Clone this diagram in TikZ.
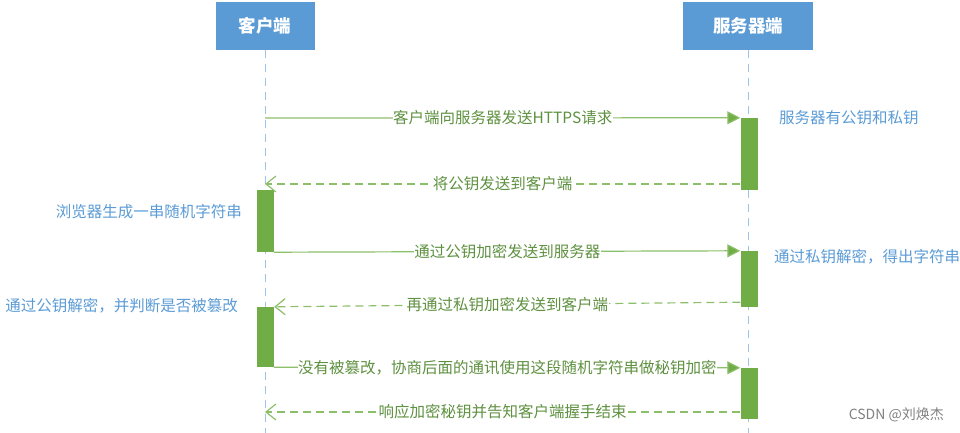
\documentclass[tikz,border=0pt]{standalone}
\usepackage{fontspec}
\setmainfont{Noto Sans CJK SC}
\usetikzlibrary{arrows.meta,calc}
\definecolor{hdrblue}{HTML}{5B9BD5}
\definecolor{lifeblue}{HTML}{9DC3E6}
\definecolor{bargreen}{HTML}{70AD47}
\definecolor{linegreen}{HTML}{8CBF6A}
\definecolor{txtgreen}{HTML}{5E9140}
\definecolor{notblue}{HTML}{5B9BD5}
\tikzset{
  header/.style={fill=hdrblue, draw=none, text=white, font=\fontsize{17.5}{20}\selectfont\bfseries, minimum height=48pt, inner sep=0pt},
  lifeline/.style={draw=lifeblue, line width=1pt, dash pattern=on 8pt off 6pt},
  actbar/.style={fill=bargreen, draw=none, minimum width=17pt, inner sep=0pt},
  reqmsg/.style={draw=linegreen, line width=1.2pt, -{Triangle[length=13pt,width=13pt,fill=bargreen]}},
  repmsg/.style={draw=linegreen, line width=1.2pt, dash pattern=on 8pt off 5pt, -{Straight Barb[length=10pt,width=16pt,line width=1.2pt]}},
  msglabel/.style={fill=white, text=txtgreen, inner sep=0.5pt, font=\fontsize{15.5}{17}\selectfont},
  note/.style={text=notblue, inner sep=0pt, font=\fontsize{15.5}{17}\selectfont}
}
\begin{document}
\begin{tikzpicture}[x=1pt,y=-1pt]
\useasboundingbox (0,0) rectangle (960,433);
% headers
\node[header, minimum width=99pt] (client) at (265,26) {客户端};
\node[header, minimum width=130pt] (server) at (748,26) {服务器端};
% lifelines
\coordinate (cend) at (265,433);
\coordinate (send) at (748,433);
\draw[lifeline] (client.south) -- (cend);
\draw[lifeline] (server.south) -- (send);
% activation bars
\node[actbar, minimum height=72pt] (sb1) at (749,154) {};
\node[actbar, minimum height=62pt] (cb1) at (265.5,221) {};
\node[actbar, minimum height=56pt] (sb2) at (749,279) {};
\node[actbar, minimum height=60pt] (cb2) at (265.5,337) {};
\node[actbar, minimum height=51pt] (sb3) at (749,393.5) {};
% anchor points on lifelines
\coordinate (c1) at (265,118);
\coordinate (c2) at (265,184);
\coordinate (c6) at (265,412);
% messages
\draw[reqmsg] (c1) -- (sb1.north west) node[msglabel, pos=0.5] {客户端向服务器发送HTTPS请求};
\draw[repmsg] (sb1.south west |- c2) -- (c2) node[msglabel, pos=0.5] {将公钥发送到客户端};
\draw[reqmsg] (cb1.south east) -- (sb2.north west) node[msglabel, pos=0.5] {通过公钥加密发送到服务器};
\draw[repmsg] ($(sb2.south west)+(0,-5)$) -- (cb2.north east) node[msglabel, pos=0.5] {再通过私钥加密发送到客户端};
\draw[reqmsg] (cb2.south east) -- (sb3.north west) node[msglabel, pos=0.5] {没有被篡改，协商后面的通讯使用这段随机字符串做秘钥加密};
\draw[repmsg] (sb3.west |- c6) -- (c6) node[msglabel, pos=0.5] {响应加密秘钥并告知客户端握手结束};
% notes
\node[note, anchor=west] (n1) at (779,118) {服务器有公钥和私钥};
\node[note, anchor=east] (n2) at (242,212) {浏览器生成一串随机字符串};
\node[note, anchor=west] (n3) at (774,257) {通过私钥解密，得出字符串};
\node[note, anchor=east] (n4) at (238,306) {通过公钥解密，并判断是否被篡改};
\node[text=gray, inner sep=0pt, font=\fontsize{14}{16}\selectfont, anchor=east] (wm) at (944,415) {CSDN @刘焕杰};
\end{tikzpicture}
\end{document}
